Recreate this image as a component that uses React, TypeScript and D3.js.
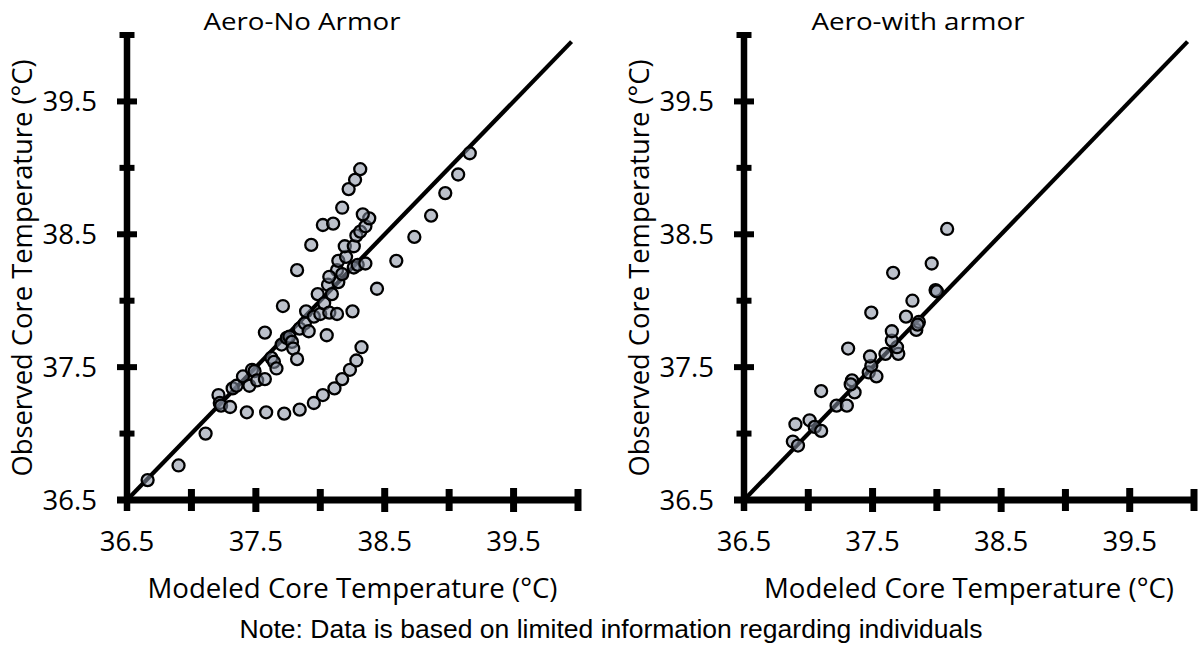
import React from "react";
import * as d3 from "d3";

// ---- Data ----
const noArmorModeled = [
  36.66, 36.9, 37.11,
  37.21, 37.22, 37.23, 37.3, 37.32, 37.35, 37.4, 37.45, 37.47, 37.49, 37.51, 37.57, 37.57,
  37.62, 37.64, 37.66, 37.7, 37.71, 37.74, 37.76, 37.78, 37.79, 37.82, 37.84, 37.88, 37.89,
  37.91, 37.95, 37.98, 38.0, 38.03, 38.05, 38.06, 38.07, 38.09, 38.13, 38.14, 38.13, 38.17,
  38.07, 38.14, 38.2, 38.19, 38.26, 38.26, 38.25, 38.29, 38.35, 38.28, 38.31, 38.35, 38.38, 38.33,
  37.82, 37.93, 38.02, 38.1, 38.17, 38.22, 38.27, 38.31,
  38.44, 38.59, 38.73, 38.86, 38.97, 39.07, 39.16,
  37.43, 37.58, 37.72, 37.84, 37.95, 38.02, 38.11, 38.17, 38.23, 38.28, 38.32,
];
const noArmorObserved = [
  36.65, 36.76, 37.0,
  37.29, 37.23, 37.21, 37.2, 37.34, 37.36, 37.43, 37.36, 37.48, 37.47, 37.4, 37.41, 37.76,
  37.57, 37.54, 37.49, 37.67, 37.96, 37.72, 37.73, 37.69, 37.64, 37.56, 37.79, 37.83, 37.92,
  37.77, 37.88, 38.05, 37.9, 37.98, 37.74, 38.12, 37.91, 38.05, 37.9, 38.14, 38.23, 38.2,
  38.18, 38.3, 38.33, 38.41, 38.41, 38.25, 37.92, 38.27, 38.28, 38.49, 38.52, 38.56, 38.62, 38.65,
  38.23, 38.42, 38.57, 38.58, 38.7, 38.84, 38.91, 38.99,
  38.09, 38.3, 38.48, 38.64, 38.81, 38.95, 39.11,
  37.16, 37.16, 37.15, 37.18, 37.23, 37.29, 37.34, 37.41, 37.48, 37.55, 37.65,
];
const armorModeled = [
  36.88, 36.92, 36.9, 37.01, 37.05, 37.1, 37.1, 37.22, 37.3, 37.34, 37.36, 37.33, 37.31,
  37.47, 37.49, 37.53, 37.48, 37.6, 37.7, 37.69, 37.65, 37.65, 37.49, 37.76, 37.84, 37.86,
  37.85, 37.81, 37.66, 37.99, 38.0, 37.96, 38.08,
];
const armorObserved = [
  36.94, 36.91, 37.07, 37.1, 37.05, 37.02, 37.32, 37.21, 37.21, 37.4, 37.31, 37.37, 37.64,
  37.46, 37.51, 37.43, 37.58, 37.6, 37.6, 37.65, 37.7, 37.77, 37.91, 37.88, 37.78, 37.84,
  37.82, 38.0, 38.21, 38.08, 38.07, 38.28, 38.54,
];
const panelTitles = ["Aero-No Armor", "Aero-with armor"];
const tickValues = [36.5, 37, 37.5, 38, 38.5, 39, 39.5, 40];
const tickLabels = ["36.5", "37.5", "38.5", "39.5"];
const domain = [36.5, 40];
const lineEnd = 39.95;

const FONT = "'Open Sans', 'Noto Sans', sans-serif";

function Panel({ x0, x1, title, titleX, titleLen, xs, ys }) {
  const x = d3.scaleLinear().domain(domain).range([x0, x1]);
  const y = d3.scaleLinear().domain(domain).range([500, 35]);
  const ax = x(36.5);
  const ay = y(36.5);
  const line = d3.line().x((d) => x(d)).y((d) => y(d));
  const pts = xs.map((v, i) => [v, ys[i]]);
  const isMajor = (v) => Math.abs((v * 2) % 2 - 1) < 1e-6; // x.5 values
  return (
    <g>
      <text x={titleX} y={30} textAnchor="middle" fontFamily={FONT} fontSize={24}
        textLength={titleLen} lengthAdjust="spacingAndGlyphs">{title}</text>
      {/* diagonal */}
      <path d={line([36.5, lineEnd])} stroke="#000" strokeWidth={4.2} fill="none" />
      {/* y axis */}
      <line x1={ax} x2={ax} y1={y(40)} y2={ay + 11} stroke="#000" strokeWidth={6.5} />
      {tickValues.map((v) => {
        const h = v === 40 ? 7.5 : isMajor(v) ? 10 : 7.5;
        return <line key={"yt" + v} x1={ax - h} x2={ax + h} y1={y(v)} y2={y(v)} stroke="#000" strokeWidth={6} />;
      })}
      {/* x axis */}
      <line x1={ax - 10} x2={x(40)} y1={ay} y2={ay} stroke="#000" strokeWidth={7} />
      {tickValues.filter((v) => v > 36.5).map((v) => {
        const h = isMajor(v) ? 12 : 11;
        return <line key={"xt" + v} x1={x(v)} x2={x(v)} y1={ay - h} y2={ay + h} stroke="#000" strokeWidth={7} />;
      })}
      {tickLabels.map((t) => (
        <text key={"yl" + t} x={ax - 30} y={y(+t)} dy="0.35em" textAnchor="end" fontFamily={FONT} fontSize={27.5}>{t}</text>
      ))}
      {tickLabels.map((t) => (
        <text key={"xl" + t} x={x(+t)} y={551} textAnchor="middle" fontFamily={FONT} fontSize={27.5}>{t}</text>
      ))}
      <text x={(x0 + x1) / 2} y={598} textAnchor="middle" fontFamily={FONT} fontSize={28}
        textLength={410} lengthAdjust="spacingAndGlyphs">Modeled Core Temperature (°C)</text>
      <text transform={`translate(${ax - 95},268) rotate(-90)`} textAnchor="middle" fontFamily={FONT} fontSize={28}
        textLength={417} lengthAdjust="spacingAndGlyphs">Observed Core Temperature (°C)</text>
      {pts.map((p, i) => (
        <circle key={i} cx={x(p[0])} cy={y(p[1])} r={6} fill="#858ea0" fillOpacity={0.55}
          stroke="#000" strokeWidth={2.3} />
      ))}
    </g>
  );
}

export default function App() {
  return (
    <svg width={1198} height={648} style={{ position: "absolute", left: 0, top: 0, background: "#fff" }}>
      <rect width={1198} height={648} fill="#fff" />
      <Panel x0={127} x1={578} title={panelTitles[0]} titleX={302} titleLen={197} xs={noArmorModeled} ys={noArmorObserved} />
      <Panel x0={744} x1={1194} title={panelTitles[1]} titleX={918} titleLen={213} xs={armorModeled} ys={armorObserved} />
      <text x={611} y={638} textAnchor="middle" fontFamily="'Liberation Sans', Arial, sans-serif" fontSize={25}
        textLength={743} lengthAdjust="spacingAndGlyphs">Note: Data is based on limited information regarding individuals</text>
    </svg>
  );
}
